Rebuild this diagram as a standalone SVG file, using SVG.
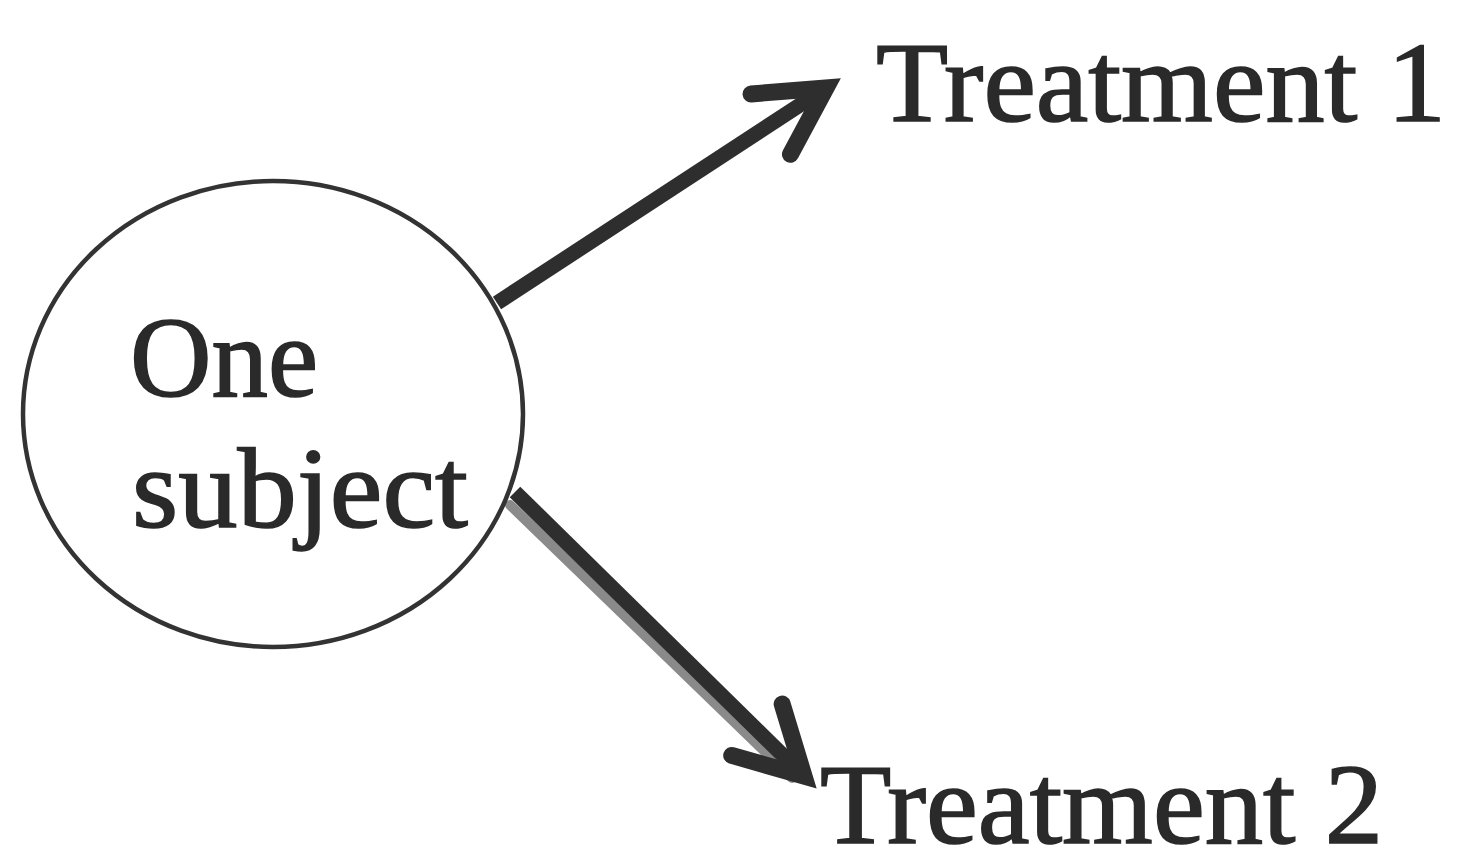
<svg xmlns="http://www.w3.org/2000/svg" width="1459" height="867" viewBox="0 0 1459 867">
<style>
.lbl{font-family:"Liberation Serif","Times New Roman",serif;font-size:114px;fill:#2a2a2a;stroke:#2a2a2a;stroke-width:1.6}
.node{fill:#fff;stroke:#333;stroke-width:4.5}
.shaft{fill:none;stroke:#2e2e2e;stroke-width:15;stroke-linecap:butt}
.shadow{fill:none;stroke:#8a8a8a;stroke-width:10;stroke-linecap:round}
</style>
<defs>
<marker id="head" markerUnits="userSpaceOnUse" viewBox="-90 -50 110 100" markerWidth="110" markerHeight="100" refX="0" refY="0" orient="auto" overflow="visible">
<path d="M-66,-36 L0,0 L-66,36" fill="none" stroke="#2e2e2e" stroke-width="17" stroke-linejoin="miter" stroke-linecap="round"/>
</marker>
</defs>
<rect width="1459" height="867" fill="#fff"/>
<g id="connectors">
<path class="shadow" d="M510,505 L792,778"/>
<path class="shaft" d="M497,303 L826,88" marker-end="url(#head)"/>
<path class="shaft" d="M515,492 L804,776" marker-end="url(#head)"/>
</g>
<g id="node-subject">
<ellipse class="node" cx="273" cy="414" rx="250" ry="233"/>
<text class="lbl" x="130" y="396" textLength="188" lengthAdjust="spacingAndGlyphs">One</text>
<text class="lbl" x="132" y="527" textLength="336" lengthAdjust="spacingAndGlyphs">subject</text>
</g>
<g id="node-t1">
<text class="lbl" x="876" y="121" textLength="570" lengthAdjust="spacingAndGlyphs">Treatment 1</text>
</g>
<g id="node-t2">
<text class="lbl" x="820" y="843" textLength="563" lengthAdjust="spacingAndGlyphs">Treatment 2</text>
</g>
</svg>
